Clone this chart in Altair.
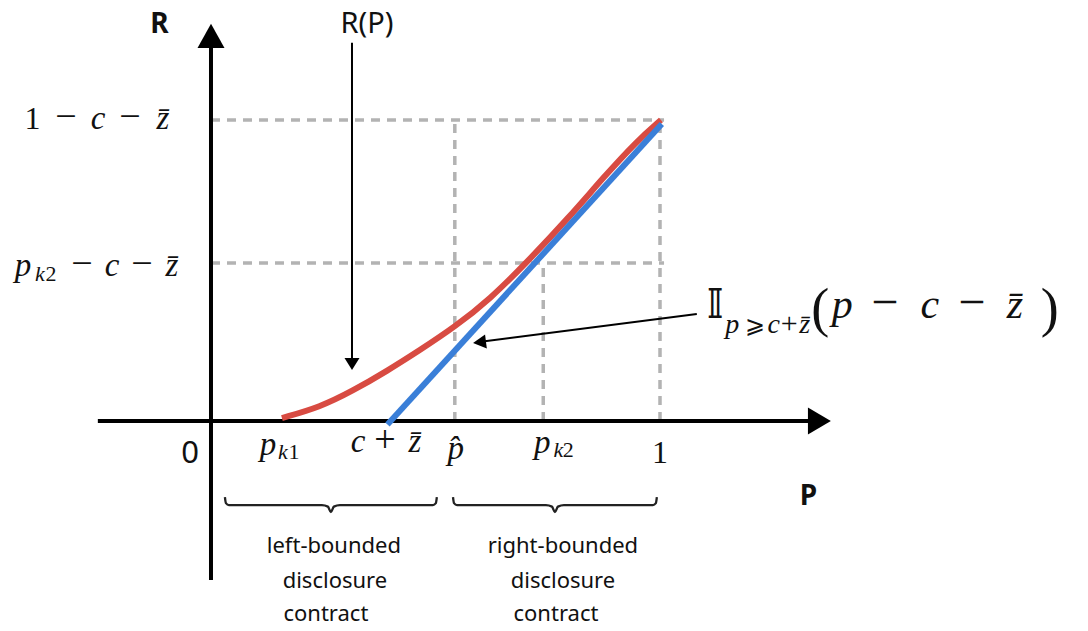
import altair as alt
import pandas as pd

# ---------------- values ----------------
# P axis: 0 .. 1   ;  R axis in the same model units
c_zbar = 0.392      # c + z̄
p_k1 = 0.158
p_hat = 0.543
p_k2 = 0.740
p_one = 1.0
r_top = 0.608       # 1 - c - z̄
r_k2 = 0.319        # p_k2 - c - z̄ (as drawn)

# R(P) curve (red)
red_p = [0.158, 0.243, 0.316, 0.392, 0.465, 0.543, 0.621, 0.704, 0.800, 0.873, 0.949, 1.002]
red_r = [0.006, 0.028, 0.061, 0.101, 0.143, 0.190, 0.246, 0.321, 0.414, 0.491, 0.566, 0.608]
# indicator line (blue)
blue_p = [0.393, 1.004]
blue_r = [-0.007, 0.600]

# braces under the axis
left_span = [0.031, 0.503]
right_span = [0.539, 0.993]
brace_r = -0.170

left_lines = ["left-bounded", "disclosure", "contract"]
right_lines = ["right-bounded", "disclosure", "contract"]

# ---------------- canvas / scales ----------------
W, H = 1072, 615
X_DOM = [-0.4521, 1.9354]
Y_DOM = [-0.4081, 0.8343]
PX_P = W / (X_DOM[1] - X_DOM[0])
PX_R = H / (Y_DOM[1] - Y_DOM[0])

xs = alt.Scale(domain=X_DOM, nice=False, zero=False)
ys = alt.Scale(domain=Y_DOM, nice=False, zero=False)


def X(f="P"):
    return alt.X(f"{f}:Q", scale=xs, axis=None)


def Y(f="R"):
    return alt.Y(f"{f}:Q", scale=ys, axis=None)


def at(p, r, dx=0, dy=0):
    return p + dx / PX_P, r - dy / PX_R


layers = []

# ---------------- dashed guides ----------------
guides = pd.DataFrame([
    dict(P=0, P2=p_one + 0.009, R=r_top, R2=r_top),
    dict(P=0, P2=p_one + 0.009, R=r_k2, R2=r_k2),
    dict(P=p_hat, P2=p_hat, R=0, R2=r_top),
    dict(P=p_k2, P2=p_k2, R=0, R2=r_k2),
    dict(P=p_one, P2=p_one, R=0, R2=r_top),
])
layers.append(alt.Chart(guides).mark_rule(color="#b3b3b3", strokeWidth=3.5, strokeDash=[9, 7]).encode(
    x=X(), x2="P2:Q", y=Y(), y2="R2:Q"))

# ---------------- axes ----------------
axes = pd.DataFrame([
    dict(P=-0.252, P2=1.33, R=0, R2=0),
    dict(P=0, P2=0, R=-0.321, R2=0.754),
])
layers.append(alt.Chart(axes).mark_rule(color="black", strokeWidth=4).encode(
    x=X(), x2="P2:Q", y=Y(), y2="R2:Q"))

heads_big = pd.DataFrame([
    dict(P=1.355, R=0, s="M-0.85,-1L0.85,0L-0.85,1Z"),
    dict(P=0, R=0.778, s="M-1,0.89L0,-0.89L1,0.89Z"),
])
for _, row in heads_big.iterrows():
    layers.append(alt.Chart(pd.DataFrame([row])).mark_point(
        shape=row["s"], size=729, filled=True, color="black", opacity=1, strokeWidth=0).encode(x=X(), y=Y()))

# ---------------- curves ----------------
red = pd.DataFrame({"P": red_p, "R": red_r})
blue = pd.DataFrame({"P": blue_p, "R": blue_r})
layers.append(alt.Chart(red).mark_line(color="#d84b42", strokeWidth=6, interpolate="basis",
                                       strokeCap="butt").encode(x=X(), y=Y()))
layers.append(alt.Chart(blue).mark_line(color="#3a7fd8", strokeWidth=6, strokeCap="butt").encode(x=X(), y=Y()))

# ---------------- pointer arrows ----------------
rp_p = (352 - 211) / PX_P  # R(P) pointer column
pointers = pd.DataFrame([
    dict(P=rp_p, P2=rp_p, R=0.764, R2=0.123),
    dict(P=1.082, P2=0.601, R=0.216, R2=0.160),
])
layers.append(alt.Chart(pointers).mark_rule(color="black", strokeWidth=2).encode(
    x=X(), x2="P2:Q", y=Y(), y2="R2:Q"))
layers.append(alt.Chart(pd.DataFrame([dict(P=rp_p, R=0.115)])).mark_point(
    shape="M-1,-0.8L0,0.8L1,-0.8Z", size=225, filled=True, color="black", opacity=1, strokeWidth=0
).encode(x=X(), y=Y()))
layers.append(alt.Chart(pd.DataFrame([dict(P=0.598, R=0.159)])).mark_point(
    shape="M-0.93,-1L0.93,0L-0.93,1Z", size=196, angle=172.6, filled=True, color="black", opacity=1,
    strokeWidth=0).encode(x=X(), y=Y()))

# ---------------- braces ----------------
tmpl_ends = [(-8, 0), (-2, 1), (0, 4), (0, 10)]
rows = []
for g, (a, b) in enumerate([left_span, right_span]):
    m = (a + b) / 2
    pts = []
    for dyp, dxp in tmpl_ends:
        pts.append((a + dxp / PX_P, dyp))
    pts += [(m - 9 / PX_P, 0), (m - 3 / PX_P, 1.5), (m, 7), (m + 3 / PX_P, 1.5), (m + 9 / PX_P, 0)]
    for dyp, dxp in reversed(tmpl_ends):
        pts.append((b - dxp / PX_P, dyp))
    for i, (p, dyp) in enumerate(pts):
        rows.append(dict(g=g, i=i, P=p, R=brace_r - dyp / PX_R))
braces = pd.DataFrame(rows)
layers.append(alt.Chart(braces).mark_line(color="#222222", strokeWidth=2.3, interpolate="monotone").encode(
    x=X(), y=Y(), detail="g:N", order="i:Q"))

# ---------------- text ----------------
SERIF = "Liberation Serif"
SANS = "Noto Sans"
DJV = "DejaVu Sans"
styles = {
    "mi": dict(font=SERIF, fontSize=33, fontStyle="italic"),
    "mn": dict(font=SERIF, fontSize=32),
    "mo": dict(font=SERIF, fontSize=38),
    "si": dict(font=SERIF, fontSize=22, fontStyle="italic"),
    "sn": dict(font=SERIF, fontSize=22),
    "fI": dict(font=DJV, fontSize=40, fontWeight="bold"),
    "fsi": dict(font=SERIF, fontSize=28, fontStyle="italic"),
    "fso": dict(font=SERIF, fontSize=30),
    "fge": dict(font=DJV, fontSize=24),
    "fi": dict(font=SERIF, fontSize=42, fontStyle="italic"),
    "fo": dict(font=SERIF, fontSize=48),
    "fp": dict(font=SERIF, fontSize=54),
    "sans": dict(font=SANS, fontSize=31),
    "rp": dict(font=SANS, fontSize=29),
    "bold": dict(font=SANS, fontSize=28, fontWeight="bold"),
    "txt": dict(font=SANS, fontSize=22),
}

pieces = []


def put(anchor, dx, dy, t, st):
    p, r = at(anchor[0], anchor[1], dx, dy)
    pieces.append(dict(P=p, R=r, t=t, st=st))


# x tick labels
put((p_k1, 0), -14, 34, "p", "mi"); put((p_k1, 0), 1, 38, "k", "si"); put((p_k1, 0), 12, 38, "1", "sn")
put((c_zbar, 0), -29, 31, "c", "mi"); put((c_zbar, 0), -2, 31, "+", "mo"); put((c_zbar, 0), 28, 31, "z\u0304", "mi")
put((p_hat, 0), 1, 38, "p\u0302", "mi")
put((p_k2, 0), -1, 32, "p", "mi"); put((p_k2, 0), 15, 36, "k", "si"); put((p_k2, 0), 25, 36, "2", "sn")
put((p_one, 0), 0, 42, "1", "mn")
put((0, 0), -21, 42, "0", "sans")
# y tick labels
put((0, r_top), -178.5, 9, "1", "mn"); put((0, r_top), -145, 9, "\u2212", "mo"); put((0, r_top), -113, 9, "c", "mi")
put((0, r_top), -81, 9, "\u2212", "mo"); put((0, r_top), -48, 9, "z\u0304", "mi")
put((0, r_k2), -188, 13, "p", "mi"); put((0, r_k2), -171, 18, "k", "si"); put((0, r_k2), -160, 18, "2", "sn")
put((0, r_k2), -129, 13, "\u2212", "mo"); put((0, r_k2), -99, 13, "c", "mi")
put((0, r_k2), -69, 13, "\u2212", "mo"); put((0, r_k2), -39, 13, "z\u0304", "mi")
# formula
F = (1.082, 0.216)
put(F, 18.5, 4, "\U0001D540", "fI")
put(F, 35.5, 19, "p", "fsi"); put(F, 58, 19, "\u2A7E", "fge"); put(F, 77, 19, "c", "fsi")
put(F, 92.5, 19, "+", "fso"); put(F, 108, 19, "z\u0304", "fsi")
put(F, 123.5, 12, "(", "fp"); put(F, 145.5, 4, "p", "fi"); put(F, 188, 4, "\u2212", "fo")
put(F, 233, 4, "c", "fi"); put(F, 275, 4, "\u2212", "fo"); put(F, 318, 4, "z\u0304", "fi")
put(F, 353, 12, ")", "fp")
# axis names and R(P)
put((0, 0.778), -51.5, -3, "R", "bold")
put((1.355, 0), -11, 84, "P", "bold")
put((rp_p, 0.764), 15, -10, "R(P)", "rp")
# contract descriptions
lm = sum(left_span) / 2
rm = sum(right_span) / 2
for t, dx, dy in zip(left_lines, [3, 4, -5], [48, 83, 116]):
    put((lm, brace_r), dx, dy, t, "txt")
for t, dx, dy in zip(right_lines, [8, 8, 1], [48, 83, 116]):
    put((rm, brace_r), dx, dy, t, "txt")

tdf = pd.DataFrame(pieces)
for st, props in styles.items():
    sub = tdf[tdf.st == st]
    if len(sub) == 0:
        continue
    layers.append(alt.Chart(sub).mark_text(align="center", baseline="alphabetic", color="#111111", **props)
                  .encode(x=X(), y=Y(), text="t:N"))

chart = alt.layer(*layers).properties(
    width=W, height=H, padding=0, autosize=alt.AutoSizeParams(type="none"), background="white"
).configure_view(stroke=None)

chart.save("out.html", embed_options={"renderer": "svg", "actions": False})
